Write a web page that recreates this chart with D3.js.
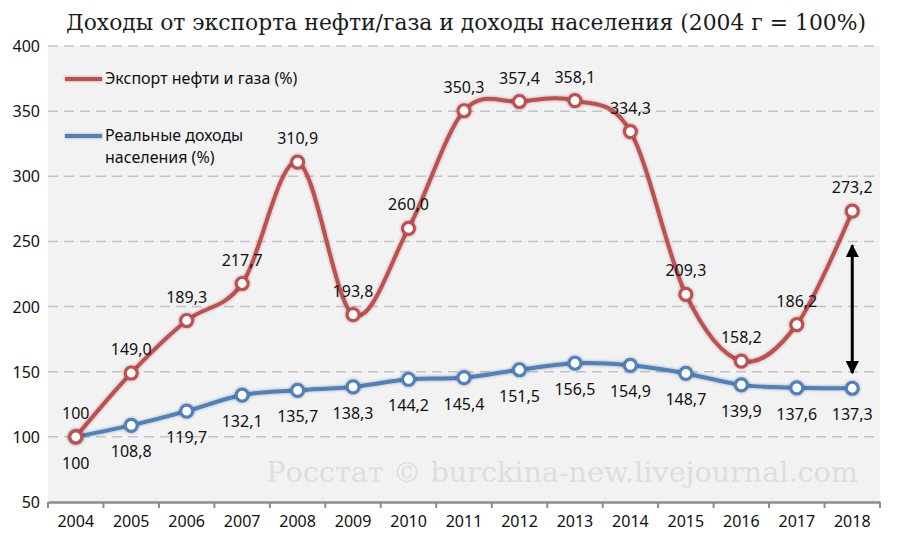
<!DOCTYPE html>
<html>
<head>
<meta charset="utf-8">
<script src="https://cdn.jsdelivr.net/npm/d3@7"></script>
<style>
body { margin: 0; background: #fff; }
svg { display: block; }
</style>
</head>
<body>
<svg id="chart" width="900" height="546"></svg>
<script>
// data
var years = ["2004","2005","2006","2007","2008","2009","2010","2011","2012","2013","2014","2015","2016","2017","2018"];
var exportVals = [100, 149.0, 189.3, 217.7, 310.9, 193.8, 260.0, 350.3, 357.4, 358.1, 334.3, 209.3, 158.2, 186.2, 273.2];
var incomeVals = [100, 108.8, 119.7, 132.1, 135.7, 138.3, 144.2, 145.4, 151.5, 156.5, 154.9, 148.7, 139.9, 137.6, 137.3];
var yTicks = [50, 100, 150, 200, 250, 300, 350, 400];
var seriesNames = ["Экспорт нефти и газа (%)", ["Реальные доходы", "населения (%)"]];
var arrowRange = [149, 247]; // annotation arrow at 2018
var title = "Доходы от экспорта нефти/газа и доходы населения (2004 г = 100%)";
var watermark = "Росстат © burckina-new.livejournal.com";

var red = "#c0504d", blue = "#4f81bd";
var svg = d3.select("#chart");
var pL = 48, pR = 880, pT = 46, pB = 502;
var fs = 16;

var x = d3.scaleBand().domain(years).range([pL, pR]);
var y = d3.scaleLinear().domain([50, 400]).range([pB, pT]);
var cx = function(d, i){ return x(years[i]) + x.bandwidth() / 2; };

var defs = svg.append("defs");
var glow = defs.append("filter").attr("id", "glow").attr("filterUnits", "userSpaceOnUse")
	.attr("x", 0).attr("y", 0).attr("width", 900).attr("height", 546);
glow.append("feDropShadow").attr("dx", 0).attr("dy", 0).attr("stdDeviation", 1.6)
	.attr("flood-color", "#000").attr("flood-opacity", 0.35);

var mk = defs.append("marker").attr("id", "ah").attr("viewBox", "0 0 10 10")
	.attr("refX", 9).attr("refY", 5).attr("markerWidth", 4.5).attr("markerHeight", 4.5)
	.attr("markerUnits", "strokeWidth").attr("orient", "auto-start-reverse");
mk.append("path").attr("d", "M0,0 L10,5 L0,10 z").attr("fill", "#000");

// shrink/grow a text's font so its width matches the reference
function fitWidth(t, w) {
	var size = +t.attr("font-size");
	var len = t.node().getComputedTextLength();
	if (len > 0) t.attr("font-size", (size * w / len).toFixed(2));
}

// plot background
svg.append("rect").attr("x", pL).attr("y", pT).attr("width", pR - pL).attr("height", pB - pT)
	.attr("fill", "#f2f2f2");

// title
var tt = svg.append("text").attr("x", 466).attr("y", 30).attr("text-anchor", "middle")
	.attr("font-family", "DejaVu Serif").attr("font-size", 22).attr("fill", "#1a1a1a")
	.text(title);
fitWidth(tt, 800);

// watermark
var wm = svg.append("text").attr("x", 858).attr("y", 482).attr("text-anchor", "end")
	.attr("font-family", "DejaVu Serif").attr("font-size", 28).attr("fill", "#dedede")
	.text(watermark);
fitWidth(wm, 592);

// gridlines
svg.append("g").selectAll("line")
	.data(yTicks.filter(function(d){ return d > 50; }))
	.enter().append("line")
	.attr("x1", pL).attr("x2", pR)
	.attr("y1", function(d){ return y(d); }).attr("y2", function(d){ return y(d); })
	.attr("stroke", "#c4c4c4").attr("stroke-width", 1.5).attr("stroke-dasharray", "10,6");

// y labels
svg.append("g").selectAll("text")
	.data(yTicks).enter().append("text")
	.attr("x", 40).attr("y", function(d){ return y(d) + 6; })
	.attr("text-anchor", "end").attr("font-family", "Noto Sans").attr("font-size", fs).attr("fill", "#111")
	.text(function(d){ return d; });

// x axis
var xAxis = svg.append("g").attr("transform", "translate(0," + pB + ")")
	.call(d3.axisBottom(x).tickSize(0).tickPadding(14));
xAxis.select(".domain").attr("stroke", "#8c8c8c").attr("stroke-width", 2.5);
xAxis.selectAll("text").attr("font-family", "Noto Sans").attr("font-size", fs).attr("fill", "#111");
xAxis.selectAll(".bnd").data(years.concat([null])).enter().append("line")
	.attr("x1", function(d, i){ return pL + i * x.step(); })
	.attr("x2", function(d, i){ return pL + i * x.step(); })
	.attr("y1", 0).attr("y2", 6).attr("stroke", "#8c8c8c").attr("stroke-width", 2);

// lines
var line = d3.line().x(cx).y(function(d){ return y(d); }).curve(d3.curveCardinal.tension(0));

function drawSeries(vals, color, labelDy) {
	var g = svg.append("g");
	g.append("path").datum(vals).attr("d", line).attr("fill", "none")
		.attr("stroke", color).attr("stroke-width", 4).attr("filter", "url(#glow)");
	g.selectAll("circle").data(vals).enter().append("circle")
		.attr("cx", cx).attr("cy", function(d){ return y(d); }).attr("r", 6)
		.attr("fill", "#fff").attr("stroke", color).attr("stroke-width", 3.2).attr("filter", "url(#glow)");
	g.selectAll("text").data(vals).enter().append("text")
		.attr("x", cx).attr("y", function(d){ return y(d) + labelDy; })
		.attr("text-anchor", "middle").attr("font-family", "Noto Sans").attr("font-size", fs).attr("fill", "#111")
		.text(function(d){ return d === 100 ? "100" : d3.format(".1f")(d).replace(".", ","); });
}
drawSeries(incomeVals, blue, 32);
drawSeries(exportVals, red, -18);

// arrow
var ax = x("2018") + x.bandwidth() / 2;
svg.append("line").attr("x1", ax).attr("x2", ax)
	.attr("y1", y(arrowRange[0])).attr("y2", y(arrowRange[1]))
	.attr("stroke", "#000").attr("stroke-width", 3)
	.attr("marker-start", "url(#ah)").attr("marker-end", "url(#ah)");

// legend
var lg = svg.append("g").attr("font-family", "Noto Sans").attr("font-size", fs).attr("fill", "#111");
lg.append("line").attr("x1", 65).attr("x2", 102).attr("y1", 79).attr("y2", 79)
	.attr("stroke", red).attr("stroke-width", 4).attr("filter", "url(#glow)");
lg.append("text").attr("x", 105).attr("y", 84).text(seriesNames[0]);
lg.append("line").attr("x1", 65).attr("x2", 102).attr("y1", 136).attr("y2", 136)
	.attr("stroke", blue).attr("stroke-width", 4).attr("filter", "url(#glow)");
lg.append("text").attr("x", 105).attr("y", 141).text(seriesNames[1][0]);
lg.append("text").attr("x", 105).attr("y", 163).text(seriesNames[1][1]);
</script>
</body>
</html>
